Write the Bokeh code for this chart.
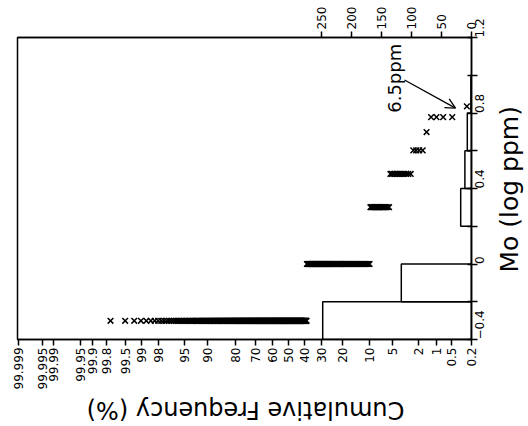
import math
from statistics import NormalDist
from bokeh.plotting import figure
from bokeh.layouts import row, column
from bokeh.models import (Range1d, LinearAxis, FixedTicker, CustomJSTickFormatter,
                          Label, Arrow, OpenHead, ColumnDataSource)
from bokeh.embed import file_html
from bokeh.resources import INLINE

# ---- data ----
mo_values = [-0.301, 0.0, 0.301, 0.477, 0.602, 0.699, 0.778, 0.835]   # log ppm
mo_counts = [248, 117, 18, 12, 4, 1, 4, 1]                              # samples per value
hist_edges = [-0.4, -0.2, 0.0, 0.2, 0.4, 0.6, 0.8, 1.0]
hist_counts = [248, 117, 0, 18, 11, 7, 1]
prob_ticks = [99.999, 99.995, 99.99, 99.95, 99.9, 99.8, 99.5, 99, 98, 95, 90, 80,
              70, 60, 50, 40, 30, 20, 10, 5, 2, 1, 0.5, 0.2]
prob_labels = ["99.999", "99.995", "99.99", "99.95", "99.9", "99.8", "99.5", "99",
               "98", "95", "90", "80", "70", "60", "50", "40", "30", "20", "10",
               "5", "2", "1", "0.5", "0.2"]
count_ticks = [0, 50, 100, 150, 200, 250]
mo_ticks = [-0.4, 0, 0.4, 0.8, 1.2]
mo_minor_ticks = [-0.2, 0.2, 0.6, 1.0]

nd = NormalDist()

# cumulative frequency (plotting position rank/(N+1), highest value first)
samples = []
for v, c in zip(mo_values, mo_counts):
    samples += [v] * c
samples.sort(reverse=True)
N = len(samples)
zpos = [nd.inv_cdf(r / (N + 1)) for r in range(1, N + 1)]
src = ColumnDataSource(dict(z=zpos, mo=samples))

prob_z = [nd.inv_cdf(p / 100.0) for p in prob_ticks]

FONT = "DejaVu Sans"
TOTAL_W, TOTAL_H = 528, 426
W, H = 493, 394                 # main plot
ML, MR, MT, MB = 17, 22, 37, 55
frame_w = W - ML - MR
RW = TOTAL_W - W                # right title strip
BH = TOTAL_H - H                # bottom title strip

p = figure(width=W, height=H, output_backend="svg", toolbar_location=None,
           x_range=Range1d(4.28, -2.885), y_range=Range1d(-0.4, 1.2),
           x_axis_location="below", y_axis_location="right",
           min_border_left=ML, min_border_right=MR, min_border_top=MT,
           min_border_bottom=MB)
p.grid.visible = False
p.outline_line_color = "black"
p.outline_line_width = 1.5
p.background_fill_color = "white"
p.border_fill_color = "white"

# histogram count scale (0 at right edge, 0.6 px per sample)
p.extra_x_ranges = {"counts": Range1d(frame_w / 0.6, 0)}

# bottom probability axis
xa = p.xaxis[0]
xa.ticker = FixedTicker(ticks=prob_z, minor_ticks=[])
xa.formatter = CustomJSTickFormatter(args=dict(zs=prob_z, labs=prob_labels), code="""
let best = 0;
for (let i = 0; i < zs.length; i++) {
  if (Math.abs(zs[i] - tick) < Math.abs(zs[best] - tick)) best = i;
}
return labs[best];
""")
# right Mo axis
ya = p.yaxis[0]
ya.ticker = FixedTicker(ticks=mo_ticks, minor_ticks=mo_minor_ticks)
ya.major_label_overrides = {0: "0"}

top = LinearAxis(x_range_name="counts", ticker=FixedTicker(ticks=count_ticks, minor_ticks=[]))
p.add_layout(top, "above")

for ax in [xa, ya, top]:
    ax.major_label_orientation = math.pi / 2
    ax.major_label_text_font = FONT
    ax.major_label_text_font_size = "12px"
    ax.major_label_text_color = "black"
    ax.major_label_standoff = 2
    ax.axis_line_width = 1.5
    ax.axis_line_color = "black"
    ax.major_tick_line_color = "black"
    ax.major_tick_line_width = 1.5
    ax.major_tick_out = 6
    ax.major_tick_in = 0
    ax.minor_tick_line_color = "black"
    ax.minor_tick_line_width = 1.5
    ax.minor_tick_out = 6
    ax.minor_tick_in = 0
ya.major_tick_in = 4
ya.minor_tick_in = 4

# histogram
p.quad(left=0, right=hist_counts, bottom=hist_edges[:-1], top=hist_edges[1:],
       x_range_name="counts", fill_color=None, line_color="black", line_width=1.5)

# cumulative frequency points
p.scatter("z", "mo", source=src, marker="x", size=8, line_color="black", line_width=1.5)

# annotation
p.add_layout(Label(x=-1.663, y=0.984, text="6.5ppm", angle=math.pi / 2,
                   text_align="center", text_baseline="middle",
                   text_font=FONT, text_font_size="18px", text_color="black"))
p.add_layout(Arrow(end=OpenHead(size=10, line_width=1.3, line_color="black"),
                   x_start=-1.828, y_start=0.975, x_end=-2.633, y_end=0.826,
                   line_width=1.3, line_color="black"))


def strip(w, h):
    f = figure(width=w, height=h, output_backend="svg", toolbar_location=None,
               x_range=Range1d(0, w), y_range=Range1d(h, 0),
               x_axis_type=None, y_axis_type=None,
               min_border_left=0, min_border_right=0, min_border_top=0,
               min_border_bottom=0)
    f.grid.visible = False
    f.outline_line_color = None
    f.background_fill_color = "white"
    f.border_fill_color = "white"
    return f


# axis titles (the whole chart is turned a quarter turn)
pr = strip(RW, H)
pr.add_layout(Label(x=16, y=198, text="Mo (log ppm)", angle=math.pi / 2,
                    text_align="center", text_baseline="middle",
                    text_font=FONT, text_font_size="25px", text_color="black"))
pb = strip(TOTAL_W, BH)
pb.add_layout(Label(x=245, y=15, text="Cumulative Frequency (%)", angle=math.pi,
                    text_align="center", text_baseline="middle",
                    text_font=FONT, text_font_size="24px", text_color="black"))

layout = column(row(p, pr, spacing=0), pb, spacing=0)

open("out.html", "w").write(file_html(layout, INLINE))
